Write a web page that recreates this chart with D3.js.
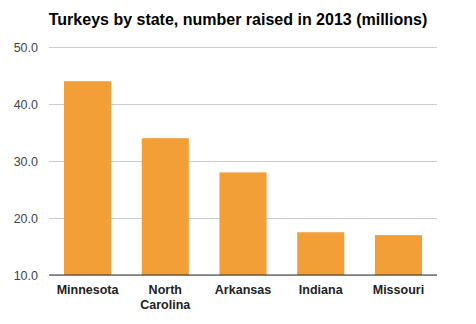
<!DOCTYPE html>
<html><head><meta charset="utf-8">
<script src="https://cdn.jsdelivr.net/npm/d3@7"></script>
<style>body{margin:0;background:#fff}svg{display:block;font-family:"Liberation Sans",Arial,sans-serif}</style>
</head><body>
<script>
const categories = ["Minnesota", "North Carolina", "Arkansas", "Indiana", "Missouri"];
const values = [44, 34, 28, 17.5, 17];
const tickValues = [10, 20, 30, 40, 50];
const title = "Turkeys by state, number raised in 2013 (millions)";

const W = 476, H = 324;
const m = {left: 49, right: 39, top: 47, bottom: 49};
const svg = d3.select("body").append("svg").attr("width", W).attr("height", H);

const x = d3.scaleBand().domain(categories).range([m.left, W - m.right]).paddingInner(0.394).paddingOuter(0.193);
const y = d3.scaleLinear().domain([10, 50]).range([H - m.bottom, m.top]);

svg.append("text").attr("x", 238).attr("y", 25).attr("text-anchor", "middle")
  .attr("font-size", 16).attr("font-weight", "bold").attr("fill", "#000").text(title);

const yAxis = d3.axisLeft(y).tickValues(tickValues).tickFormat(d3.format(".1f")).tickSize(-(W - m.left - m.right)).tickPadding(11);
const gy = svg.append("g").attr("transform", `translate(${m.left},0)`).call(yAxis);
gy.select(".domain").remove();
gy.selectAll(".tick line").attr("stroke", "#ccc");
gy.selectAll(".tick text").attr("font-size", 12.5).attr("fill", "#444").attr("font-family", "Liberation Sans, Arial, sans-serif");

svg.append("g").selectAll("rect").data(values).join("rect")
  .attr("x", (d, i) => x(categories[i])).attr("width", x.bandwidth())
  .attr("y", d => y(d)).attr("height", d => y(10) - y(d)).attr("fill", "#f39f38");

svg.append("line").attr("x1", m.left).attr("x2", W - m.right).attr("y1", y(10)).attr("y2", y(10))
  .attr("stroke", "#333").attr("stroke-width", 1.2);

const labels = svg.append("g");
categories.forEach(c => {
  const words = c.split(" ");
  const t = labels.append("text").attr("text-anchor", "middle").attr("font-size", 12.5)
    .attr("font-weight", "bold").attr("fill", "#222");
  words.forEach((w, j) => {
    t.append("tspan").attr("x", x(c) + x.bandwidth() / 2).attr("y", y(10) + 19 + j * 15).text(w);
  });
});
</script>
</body></html>
